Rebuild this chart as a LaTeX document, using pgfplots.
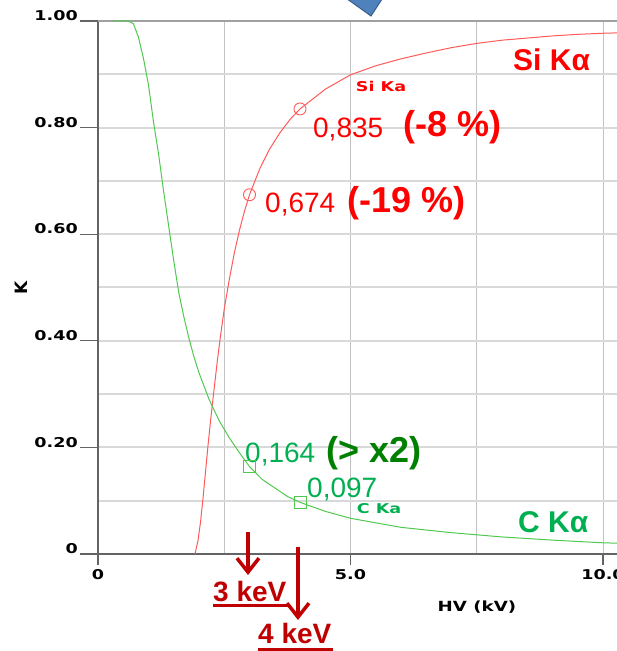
\documentclass[border=0pt]{standalone}
\usepackage{pgfplots}
\usepackage{pgfplotstable}
\pgfplotsset{compat=1.18}
\usepackage{fontspec}
\setmainfont{Liberation Sans}
\newfontfamily\tickfont{DejaVu Sans}[FakeStretch=1.3]
\newfontfamily\labelfont{DejaVu Sans}
\usetikzlibrary{arrows.meta}

\definecolor{sired}{RGB}{255,0,0}
\definecolor{sicurve}{RGB}{255,90,90}
\definecolor{ccurve}{RGB}{80,200,80}
\definecolor{cgreen}{RGB}{0,176,80}
\definecolor{dkgreen}{RGB}{0,128,0}
\definecolor{arrowred}{RGB}{192,0,0}
\definecolor{gridh}{RGB}{217,217,217}
\definecolor{gridv}{RGB}{195,195,195}
\definecolor{axisgray}{RGB}{100,100,100}
\definecolor{topgray}{RGB}{160,160,160}
\definecolor{boxblue}{RGB}{79,129,189}
\definecolor{boxedge}{RGB}{56,93,138}

% k-ratio of Si K-alpha versus accelerating voltage
\pgfplotstableread{
hv k
1.92 0.000
1.98 0.025
2.03 0.060
2.08 0.105
2.13 0.155
2.18 0.205
2.24 0.260
2.30 0.310
2.36 0.360
2.42 0.405
2.50 0.460
2.60 0.515
2.70 0.565
2.80 0.607
2.90 0.643
3.00 0.674
3.20 0.722
3.40 0.760
3.60 0.790
3.80 0.815
4.00 0.835
4.50 0.872
5.00 0.899
5.50 0.916
6.00 0.929
6.50 0.940
7.00 0.950
7.50 0.958
8.00 0.964
8.50 0.968
9.00 0.972
9.50 0.975
10.00 0.977
10.40 0.978
}\sika

% k-ratio of C K-alpha versus accelerating voltage
\pgfplotstableread{
hv k
0.30 1.000
0.60 1.000
0.70 0.995
0.80 0.970
0.90 0.930
1.00 0.880
1.10 0.810
1.20 0.750
1.30 0.680
1.40 0.615
1.50 0.550
1.60 0.490
1.70 0.445
1.80 0.405
1.90 0.370
2.00 0.340
2.20 0.290
2.40 0.250
2.60 0.218
2.80 0.190
3.00 0.164
3.25 0.140
3.50 0.124
3.75 0.108
4.00 0.097
4.50 0.080
5.00 0.067
6.00 0.050
7.00 0.040
7.50 0.036
8.00 0.032
9.00 0.026
10.00 0.021
10.40 0.020
}\cka

% measured points at 3 and 4 kV
\pgfplotstableread{
hv k
3 0.674
4 0.835
}\sipts
\pgfplotstableread{
hv k
3 0.164
4 0.097
}\cpts

\begin{document}
\begin{tikzpicture}
\begin{axis}[
  at={(98pt,97pt)}, anchor=south west,
  scale only axis, width=525.2pt, height=533pt,
  xmin=0, xmax=10.4, ymin=0, ymax=1,
  axis x line*=bottom, axis y line*=left,
  axis line style={-, draw=axisgray, line width=1.6pt},
  tick align=outside,
  major tick length=0pt, minor tick length=0pt,
  tick style={draw=axisgray, line width=1.2pt},
  % plain ticks only carry the grid
  xtick={2.5,5,7.5,10}, xticklabels={},
  ytick={0.1,0.2,0.3,0.4,0.5,0.6,0.7,0.8,0.9}, yticklabels={},
  xmajorgrids, ymajorgrids,
  every axis x grid/.style={draw=gridv, line width=1pt},
  every axis y grid/.style={draw=gridh, line width=2pt},
  % labelled ticks
  extra x ticks={0,5,10},
  extra x tick labels={0,5.0,10.0},
  extra x tick style={major tick length=11pt, grid=none},
  extra y ticks={0,0.2,0.4,0.6,0.8,1.0},
  extra y tick labels={0,0.20,0.40,0.60,0.80,1.00},
  extra y tick style={major tick length=18pt, grid=none},
  tick label style={font=\tickfont\bfseries\fontsize{13.5}{15}\selectfont, text=black},
  yticklabel style={anchor=south east, inner sep=0pt, xshift=-2pt},
  xticklabel style={anchor=north, inner sep=0pt, yshift=-4pt},
  xlabel={HV (kV)},
  xlabel style={font=\tickfont\bfseries\fontsize{14}{16}\selectfont,
    at={(axis description cs:0.7216,-0.0994)}, anchor=center},
  ylabel={K},
  ylabel style={font=\labelfont\bfseries\fontsize{17}{19}\selectfont,
    at={(axis description cs:-0.1466,0.499)}, anchor=center},
  clip=false,
]
\draw[topgray, line width=1.5pt] (axis cs:0,1) -- (axis cs:10.4,1);

\addplot[sicurve, line width=1pt, no markers] table[x=hv, y=k] {\sika};
\addplot[ccurve, line width=1pt, no markers] table[x=hv, y=k] {\cka};
\addplot[only marks, mark=o, mark size=6pt, mark options={draw=sicurve, line width=0.9pt}] table[x=hv, y=k] {\sipts};
\addplot[only marks, mark=square, mark size=6pt, mark options={draw=ccurve, line width=0.9pt}] table[x=hv, y=k] {\cpts};

% series names
\node[anchor=base, inner sep=0pt, text=sired, font=\tickfont\bfseries\fontsize{13.5}{15}\selectfont] at (axis cs:5.604,0.8668) {Si Ka};
\node[anchor=base, inner sep=0pt, text=cgreen, font=\tickfont\bfseries\fontsize{13.5}{15}\selectfont] at (axis cs:5.564,0.0769) {C Ka};
\node[anchor=base west, inner sep=0pt, text=sired, font=\bfseries\fontsize{30}{32}\selectfont] at (axis cs:8.218,0.908) {Si Kα};
\node[anchor=base west, inner sep=0pt, text=cgreen, font=\bfseries\fontsize{30}{32}\selectfont] at (axis cs:8.317,0.0394) {C Kα};

% values at 3 and 4 kV
\node[anchor=base west, inner sep=0pt, text=sired, font=\fontsize{28}{30}\selectfont] at (axis cs:4.257,0.7805) {0,835};
\node[anchor=base west, inner sep=0pt, text=sired, font=\bfseries\fontsize{36}{38}\selectfont] at (axis cs:6.040,0.7824) {(-8 \%)};
\node[anchor=base west, inner sep=0pt, text=sired, font=\fontsize{28}{30}\selectfont] at (axis cs:3.307,0.6398) {0,674};
\node[anchor=base west, inner sep=0pt, text=sired, font=\bfseries\fontsize{36}{38}\selectfont] at (axis cs:4.931,0.6398) {(-19 \%)};
\node[anchor=base west, inner sep=0pt, text=cgreen, font=\fontsize{28}{30}\selectfont] at (axis cs:2.911,0.1726) {0,164};
\node[anchor=base west, inner sep=0pt, text=dkgreen, font=\bfseries\fontsize{36}{38}\selectfont] at (axis cs:4.515,0.1726) {(> x2)};
\node[anchor=base west, inner sep=0pt, text=cgreen, font=\fontsize{28}{30}\selectfont] at (axis cs:4.139,0.1051) {0,097};

% voltage markers below the axis
\draw[arrowred, line width=3.5pt, -{Straight Barb[length=14pt,width=22pt]}] (axis cs:2.97,0.0413) -- (axis cs:2.97,-0.0394);
\draw[arrowred, line width=3.5pt, -{Straight Barb[length=14pt,width=22pt]}] (axis cs:3.96,0.0131) -- (axis cs:3.96,-0.1238);
\node[anchor=base west, inner sep=0pt, text=arrowred, font=\bfseries\fontsize{28}{30}\selectfont] at (axis cs:2.277,-0.0882) {3 keV};
\draw[arrowred, line width=3pt] (axis cs:2.277,-0.0966) -- (axis cs:3.76,-0.0966);
\node[anchor=base west, inner sep=0pt, text=arrowred, font=\bfseries\fontsize{28}{30}\selectfont] at (axis cs:3.168,-0.167) {4 keV};
\draw[arrowred, line width=3pt] (axis cs:3.168,-0.179) -- (axis cs:4.65,-0.179);
\end{axis}

% pointer shape at the top edge
\fill[boxblue, draw=boxedge, line width=1pt] (343pt,655pt) -- (384pt,655pt) -- (371pt,635pt) -- cycle;

\pgfresetboundingbox
\useasboundingbox (0,0) rectangle (617pt,651pt);
\end{tikzpicture}
\end{document}
